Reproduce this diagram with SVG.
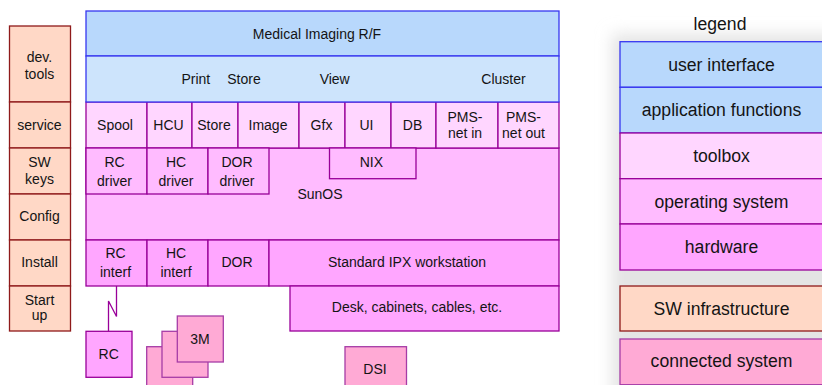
<svg xmlns="http://www.w3.org/2000/svg" width="822" height="385" viewBox="0 0 822 385">
<defs>
<filter id="soft" x="-20%" y="-20%" width="140%" height="140%"><feGaussianBlur stdDeviation="8"/></filter>
<style>
text{font-family:"Liberation Sans",Arial,sans-serif;font-size:14px;fill:#141414;text-anchor:middle}
.lg{font-size:17.6px}
rect{stroke-width:1.3}
.ui{fill:#b8d8fc;stroke:#3737f0}
.af{fill:#cde4fc;stroke:#3737f0}
.tb{fill:#ffd6ff;stroke:#990099}
.os{fill:#ffbbff;stroke:#990099}
.hw{fill:#ffa6ff;stroke:#990099}
.sw{fill:#ffd8c6;stroke:#8f1a1a}
.cs{fill:#ffaad5;stroke:#a63ca6}
.conn{fill:none;stroke:#990099;stroke-width:1.3}
</style>
</defs>
<rect x="612" y="34" width="240" height="400" fill="#e4e4e4" filter="url(#soft)" style="stroke:none"/>

<g id="sw-infra">
<g id="devtools"><rect class="sw" x="9.5" y="26" width="61" height="76"/><text x="39.5" y="61.5">dev.</text><text x="39.5" y="78.5">tools</text></g>
<g id="service"><rect class="sw" x="9.5" y="102" width="61" height="46"/><text x="39.5" y="130">service</text></g>
<g id="swkeys"><rect class="sw" x="9.5" y="148" width="61" height="46"/><text x="39.5" y="166.5">SW</text><text x="39.5" y="184">keys</text></g>
<g id="config"><rect class="sw" x="9.5" y="194" width="61" height="46"/><text x="39.5" y="221">Config</text></g>
<g id="install"><rect class="sw" x="9.5" y="240" width="61" height="46"/><text x="39.5" y="267">Install</text></g>
<g id="startup"><rect class="sw" x="9.5" y="286" width="61" height="45"/><text x="39.5" y="305">Start</text><text x="39.5" y="320">up</text></g>
</g>

<g id="sunos"><rect class="os" x="86" y="148" width="473" height="92"/><text x="320" y="199">SunOS</text></g>

<g id="toolbox">
<g id="spool"><rect class="tb" x="86" y="102" width="61" height="46"/><text x="115" y="130">Spool</text></g>
<g id="hcu"><rect class="tb" x="147" y="102" width="45" height="46"/><text x="168.5" y="130">HCU</text></g>
<g id="store-tb"><rect class="tb" x="192" y="102" width="46" height="46"/><text x="214" y="130">Store</text></g>
<g id="image"><rect class="tb" x="238" y="102" width="61" height="46"/><text x="268" y="130">Image</text></g>
<g id="gfx"><rect class="tb" x="299" y="102" width="46" height="46"/><text x="321.5" y="130">Gfx</text></g>
<g id="ui"><rect class="tb" x="345" y="102" width="46" height="46"/><text x="366.5" y="130">UI</text></g>
<g id="db"><rect class="tb" x="391" y="102" width="45" height="46"/><text x="412.5" y="130">DB</text></g>
<g id="pmsin"><rect class="tb" x="436" y="102" width="62" height="46"/><text x="465" y="122">PMS-</text><text x="465" y="138.3">net in</text></g>
<g id="pmsout"><rect class="tb" x="498" y="102" width="61" height="46"/><text x="523.5" y="122">PMS-</text><text x="523.5" y="138.3">net out</text></g>
</g>

<g id="drivers">
<g id="rcdriver"><rect class="os" x="86" y="148" width="61" height="46"/><text x="114.5" y="167">RC</text><text x="114.5" y="186">driver</text></g>
<g id="hcdriver"><rect class="os" x="147" y="148" width="61" height="46"/><text x="176" y="167">HC</text><text x="176" y="186">driver</text></g>
<g id="dordriver"><rect class="os" x="208" y="148" width="61" height="46"/><text x="237" y="167">DOR</text><text x="237" y="186">driver</text></g>
<g id="nix"><rect class="os" x="329.5" y="148" width="86.5" height="30.7"/><text x="371.3" y="166.7">NIX</text></g>
</g>

<g id="app">
<g id="medical"><rect class="ui" x="86" y="11" width="473" height="45"/><text x="317" y="38.5">Medical Imaging R/F</text></g>
<g id="functions"><rect class="af" x="86" y="56" width="473" height="46"/>
<text x="195.8" y="84">Print</text><text x="244" y="84">Store</text><text x="334.7" y="84">View</text><text x="503.5" y="84">Cluster</text></g>
</g>

<g id="hardware">
<g id="rcinterf"><rect class="hw" x="86" y="240" width="61" height="46"/><text x="115.5" y="258">RC</text><text x="115.5" y="276.7">interf</text></g>
<g id="hcinterf"><rect class="hw" x="147" y="240" width="61" height="46"/><text x="176" y="258">HC</text><text x="176" y="276.7">interf</text></g>
<g id="dor"><rect class="hw" x="208" y="240" width="61" height="46"/><text x="237" y="267">DOR</text></g>
<g id="ipx"><rect class="hw" x="269" y="240" width="290" height="46"/><text x="407" y="267.3">Standard IPX workstation</text></g>
<g id="desk"><rect class="hw" x="290" y="286" width="269" height="45"/><text x="417" y="312">Desk, cabinets, cables, etc.</text></g>
</g>

<g id="connectors">
<polyline class="conn" points="116.5,286 116.5,316.5 108.5,301 108.5,331.3"/>
</g>

<g id="connected">
<g id="rc"><rect class="hw" x="86" y="331.3" width="46" height="46"/><text x="108.7" y="359">RC</text></g>
<g id="threem">
<rect class="cs" x="146.7" y="346.7" width="46" height="46"/>
<rect class="cs" x="162" y="331.3" width="46" height="46"/>
<rect class="cs" x="177.3" y="316" width="46" height="46"/>
<text x="200" y="344">3M</text></g>
<g id="dsi"><rect class="cs" x="345" y="346.7" width="61.5" height="46"/><text x="375" y="374">DSI</text></g>
</g>

<g id="legend">
<text class="lg" x="720" y="30">legend</text>
<g id="lg-ui"><rect class="ui" x="620" y="41.7" width="204" height="45.6"/><text class="lg" x="721.5" y="70.5">user interface</text></g>
<g id="lg-af"><rect class="ui" x="620" y="87.3" width="204" height="45.7"/><text class="lg" x="721.5" y="116">application functions</text></g>
<g id="lg-tb"><rect class="tb" x="620" y="133" width="204" height="45.7"/><text class="lg" x="721.5" y="162">toolbox</text></g>
<g id="lg-os"><rect class="os" x="620" y="178.7" width="204" height="45.3"/><text class="lg" x="721.5" y="207.5">operating system</text></g>
<g id="lg-hw"><rect class="hw" x="620" y="224" width="204" height="46"/><text class="lg" x="721.5" y="253">hardware</text></g>
<g id="lg-sw"><rect class="sw" x="620" y="286" width="204" height="45"/><text class="lg" x="721.5" y="314.5">SW infrastructure</text></g>
<g id="lg-cs"><rect class="cs" x="620" y="339" width="204" height="45.7"/><text class="lg" x="721.5" y="366.5">connected system</text></g>
</g>
</svg>
